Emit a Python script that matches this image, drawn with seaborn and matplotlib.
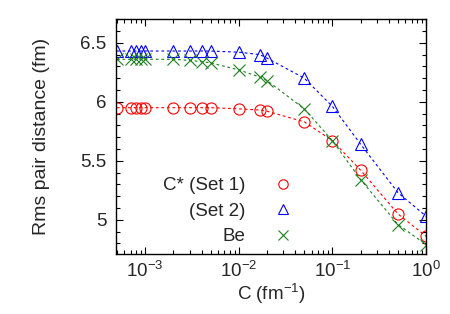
import numpy as np
import pandas as pd
import seaborn as sns
import matplotlib.pyplot as plt
from matplotlib.ticker import LogLocator, MultipleLocator, FormatStrFormatter

# cutoff C (fm^-1)
c_vals = [5e-4, 7e-4, 8e-4, 9e-4, 1e-3, 2e-3, 3e-3, 4e-3, 5e-3,
          1e-2, 1.67e-2, 2e-2, 5e-2, 0.1, 0.2, 0.5, 1.0]
# rms pair distance (fm)
set1 = [5.95, 5.95, 5.95, 5.95, 5.95, 5.95, 5.95, 5.95, 5.95,
        5.94, 5.93, 5.92, 5.83, 5.67, 5.42, 5.05, 4.86]
set2 = [6.43, 6.43, 6.43, 6.43, 6.43, 6.43, 6.43, 6.43, 6.43,
        6.42, 6.40, 6.37, 6.20, 5.96, 5.64, 5.23, 5.03]
be = [6.36, 6.36, 6.36, 6.36, 6.36, 6.36, 6.35, 6.34, 6.33,
      6.27, 6.21, 6.18, 5.94, 5.67, 5.34, 4.96, 4.79]
labels = ['C* (Set 1)', '(Set 2)', 'Be']

sns.set_style('ticks')
plt.rcParams['font.family'] = ['Liberation Sans', 'DejaVu Sans']
plt.rcParams['mathtext.fontset'] = 'custom'
plt.rcParams['mathtext.rm'] = 'Liberation Sans'

fs = 13.5
fig = plt.figure(figsize=(4.5, 3.14), dpi=100)
ax = fig.add_axes([0.258, 0.191, 0.689, 0.748])

series = [(set1, 'o', '#ff0000', 8), (set2, '^', '#0000ff', 8), (be, 'x', '#1e7f1e', 8)]
for (vals, mk, col, ms), lab in zip(series, labels):
    df = pd.DataFrame({'C': c_vals, 'r': vals})
    sns.lineplot(x='C', y='r', data=df, ax=ax, color=col, lw=0.8,
                 dashes=False, linestyle=(0, (2.5, 2.5)), label='_nolegend_')
    ax.plot(df['C'], df['r'], ls='none', marker=mk, ms=ms, mfc='none',
            mec=col, mew=0.8, label=lab)

ax.set_xscale('log')
ax.set_xlim(4.9e-4, 1.0)
ax.set_ylim(4.71, 6.7)
ax.xaxis.set_major_locator(LogLocator(base=10, numticks=10))
ax.xaxis.set_minor_locator(LogLocator(base=10, subs=np.arange(2, 10), numticks=20))
ax.yaxis.set_major_locator(MultipleLocator(0.5))
ax.yaxis.set_minor_locator(MultipleLocator(0.1))
ax.yaxis.set_major_formatter(FormatStrFormatter('%g'))
ax.tick_params(which='both', direction='in', top=True, right=True,
               labelsize=fs, width=0.8, color='black')
ax.tick_params(which='major', length=5)
ax.tick_params(axis='x', which='major', pad=5)
ax.tick_params(axis='y', which='major', pad=7)
ax.tick_params(which='minor', length=3)
for s in ax.spines.values():
    s.set_linewidth(1.0)
    s.set_color('black')

ax.set_xlabel('C (fm$^{-1}$)', fontsize=fs, labelpad=0)
ax.set_ylabel('Rms pair distance (fm)', fontsize=14, labelpad=22)

leg = ax.legend(loc='lower right', bbox_to_anchor=(0.63, -0.035), frameon=False,
                markerfirst=False, fontsize=fs, handlelength=1.2, markerscale=0.85,
                handletextpad=1.4, labelspacing=0.45, borderpad=0.4)

fig.savefig('out.png', dpi=100)
